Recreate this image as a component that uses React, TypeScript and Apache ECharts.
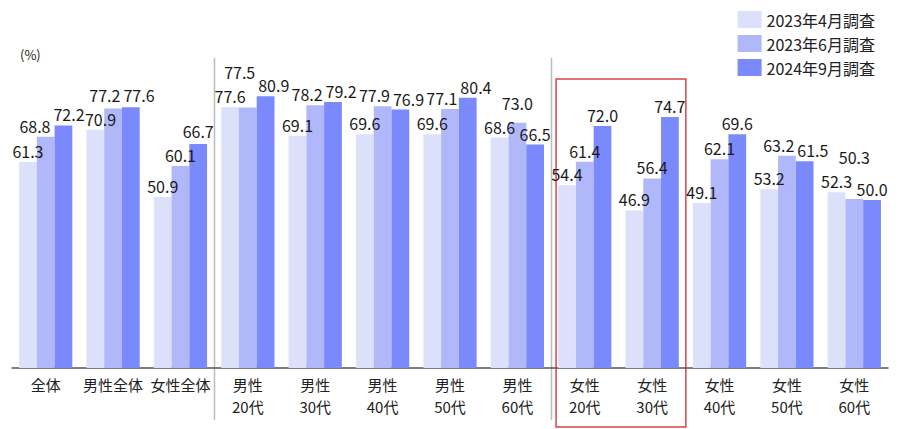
import React, { useEffect, useRef } from "react";
import * as echarts from "echarts";

const categories = [
  "全体", "男性全体", "女性全体",
  "男性\n20代", "男性\n30代", "男性\n40代", "男性\n50代", "男性\n60代",
  "女性\n20代", "女性\n30代", "女性\n40代", "女性\n50代", "女性\n60代",
];
const seriesNames = ["2023年4月調査", "2023年6月調査", "2024年9月調査"];
const apr2023 = [61.3, 70.9, 50.9, 77.6, 69.1, 69.6, 69.6, 68.6, 54.4, 46.9, 49.1, 53.2, 52.3];
const jun2023 = [68.8, 77.2, 60.1, 77.5, 78.2, 77.9, 77.1, 73.0, 61.4, 56.4, 62.1, 63.2, 50.3];
const sep2024 = [72.2, 77.6, 66.7, 80.9, 79.2, 76.9, 80.4, 66.5, 72.0, 74.7, 69.6, 61.5, 50.0];
const colors = ["#dde0fb", "#b1b8fa", "#7a89fb"];
const separatorsAfter = [2, 7];
const highlightRange = [8, 9];

const FONT = "'Noto Sans CJK JP', 'Noto Sans', sans-serif";
const LABEL_FS = 16;
const LABEL_H = 23;
const LABEL_DIST = 3;
const CAT_GAP = 0.21;

type Box = { x: number; y: number; w: number; h: number; dx: number; dy: number; c: number; s: number };

function overlap(a: Box, b: Box) {
  return a.x < b.x + b.w && b.x < a.x + a.w && a.y < b.y + b.h && b.y < a.y + a.h;
}

export default function App() {
  const ref = useRef<HTMLDivElement>(null);
  useEffect(() => {
    if (!ref.current) return;
    document.body.style.margin = "0";
    const chart = echarts.init(ref.current, null, { renderer: "svg" });
    const data = [apr2023, jun2023, sep2024];
    const offsets: { dx: number; dy: number }[][] = data.map((arr) => arr.map(() => ({ dx: 0, dy: 0 })));

    const buildOption = () => ({
      animation: false,
      textStyle: { fontFamily: FONT },
      grid: { left: 12, right: 12, top: 32, bottom: 61 },
      legend: {
        orient: "vertical",
        right: 20,
        top: 6,
        itemWidth: 24,
        itemHeight: 17,
        itemGap: 7,
        icon: "rect",
        textStyle: { fontSize: 16, color: "#222", fontFamily: FONT },
        data: seriesNames,
      },
      xAxis: {
        type: "category",
        data: categories,
        axisTick: { show: false },
        axisLine: { lineStyle: { color: "#555", width: 1.5 } },
        axisLabel: { fontSize: 15, color: "#222", lineHeight: 22, margin: 5, interval: 0, fontFamily: FONT },
      },
      yAxis: {
        type: "value",
        min: 0,
        max: 100,
        show: false,
        splitLine: { show: false },
      },
      series: seriesNames.map((name, i) => ({
        name,
        type: "bar",
        data: data[i],
        barGap: "0%",
        barCategoryGap: CAT_GAP * 100 + "%",
        itemStyle: { color: colors[i] },
        label: {
          show: true,
          position: "top",
          distance: LABEL_DIST,
          fontSize: LABEL_FS,
          color: "#1a1a1a",
          fontFamily: FONT,
          formatter: (p: any) => Number(p.value).toFixed(1),
        },
        labelLayout: (p: any) => {
          const o = offsets[p.seriesIndex]?.[p.dataIndex];
          return o ? { dx: o.dx, dy: o.dy } : {};
        },
      })),
    });

    chart.setOption(buildOption());

    const xAt = (v: number) => chart.convertToPixel({ xAxisIndex: 0 }, v) as number;
    const yAt = (v: number) => chart.convertToPixel({ yAxisIndex: 0 }, v) as number;
    const band = xAt(1) - xAt(0);
    const half = band / 2;
    const bw = (band * (1 - CAT_GAP)) / 3;

    const ctx = document.createElement("canvas").getContext("2d");
    const measure = (t: string) => {
      if (!ctx) return t.length * LABEL_FS * 0.56;
      ctx.font = `${LABEL_FS}px ${FONT}`;
      return ctx.measureText(t).width;
    };

    const moveY = (b: Box, ny: number) => {
      b.dy += ny - b.y;
      b.y = ny;
    };
    const moveX = (b: Box, d: number) => {
      b.dx += d;
      b.x += d;
    };

    const all: Box[] = [];
    categories.forEach((_, c) => {
      const L: Box[] = data.map((arr, i) => {
        const cx = xAt(c) + (i - 1) * bw;
        const w = measure(arr[c].toFixed(1));
        const bottom = yAt(arr[c]) - LABEL_DIST;
        return { x: cx - w / 2, y: bottom - LABEL_H, w, h: LABEL_H, dx: 0, dy: 0, c, s: i };
      });
      if (overlap(L[0], L[1]) && overlap(L[1], L[2])) {
        const ny = L[0].y - LABEL_H - 1;
        if (L[1].y > ny) moveY(L[1], ny);
      }
      all.push(...L);
    });

    const resolve = (a: Box, b: Box) => {
      if (!overlap(a, b)) return;
      const vdiff = Math.abs(a.y - b.y);
      if (a.c === b.c && vdiff >= 14) {
        const hi = a.y < b.y ? a : b;
        const lo = hi === a ? b : a;
        moveY(hi, lo.y - LABEL_H - 1);
      } else {
        const need = a.x + a.w + 3 - b.x;
        moveX(a, -need / 2);
        moveX(b, need / 2);
      }
    };
    for (let iter = 0; iter < 4; iter++) {
      for (let i = 0; i < all.length; i++) {
        for (let j = i + 1; j < Math.min(all.length, i + 4); j++) {
          resolve(all[i], all[j]);
        }
      }
    }
    all.forEach((b) => {
      offsets[b.s][b.c] = { dx: b.dx, dy: b.dy };
    });

    const graphics: any[] = separatorsAfter.map((c) => {
      const x = Math.round(xAt(c) + half) + 0.5;
      return {
        type: "line",
        shape: { x1: x, y1: 58, x2: x, y2: 420 },
        style: { stroke: "#bdbdbd", lineWidth: 1.5 },
        silent: true,
      };
    });
    const rx1 = xAt(highlightRange[0]) - half + 5;
    const rx2 = xAt(highlightRange[1]) + half;
    graphics.push({
      type: "rect",
      shape: { x: rx1, y: 79, width: rx2 - rx1, height: 348 },
      style: { fill: "none", stroke: "#d8464b", lineWidth: 1.5 },
      silent: true,
    });
    graphics.push({
      type: "text",
      x: 20,
      y: yAt(100) + 16,
      style: { text: "(%)", fontSize: 13, fill: "#222", fontFamily: FONT },
    });

    const opt: any = buildOption();
    opt.graphic = graphics;
    chart.setOption(opt);
    return () => chart.dispose();
  }, []);
  return <div ref={ref} style={{ width: 900, height: 429 }} />;
}
